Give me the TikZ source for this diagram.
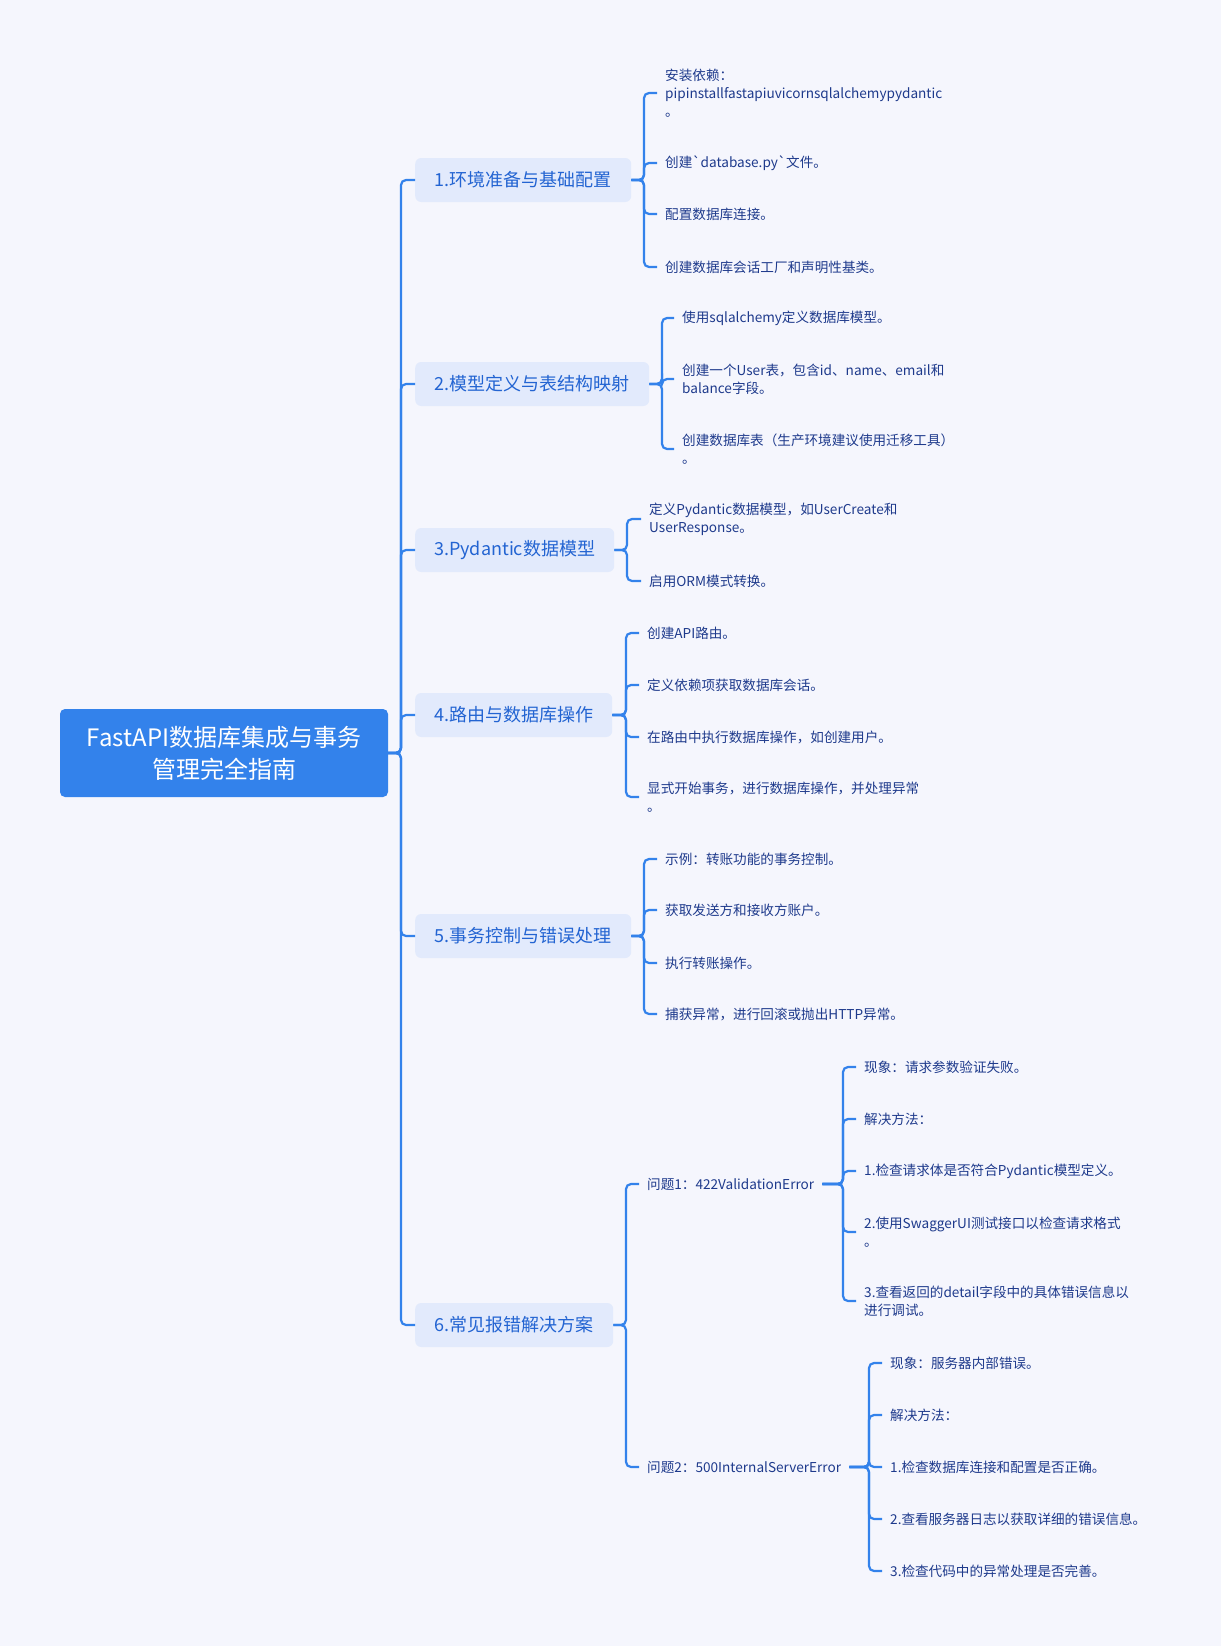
\documentclass[tikz,border=0pt]{standalone}
\usepackage{fontspec}
\setmainfont{Noto Sans CJK SC}[Ligatures=TeXOff]
\usetikzlibrary{calc}
\definecolor{bgc}{HTML}{F5F6FD}
\definecolor{rootc}{HTML}{3382EB}
\definecolor{boxc}{HTML}{E2EAFC}
\definecolor{lvtext}{HTML}{2364D2}
\definecolor{leaftext}{HTML}{1E3A8C}
\definecolor{linec}{HTML}{3382EB}
\begin{document}
\begin{tikzpicture}[x=1pt,y=-1pt,
  conn/.style={draw=linec, line width=2.2pt, rounded corners=5pt},
  rootnode/.style={fill=rootc, rounded corners=5pt, text=white, font=\fontsize{24}{32}\selectfont, align=center, minimum width=328pt, minimum height=88pt, inner sep=0pt},
  lvbox/.style={fill=boxc, rounded corners=6pt, text=lvtext, font=\fontsize{18}{22}\selectfont, minimum height=44pt, inner sep=0pt, anchor=west},
  leaf/.style={text=leaftext, font=\fontsize{13.6}{18}\selectfont, align=left, anchor=west, inner xsep=8pt, inner ysep=2pt}
]
\fill[bgc] (0,0) rectangle (1221,1646);
\useasboundingbox (0,0) rectangle (1221,1646);

\node[rootnode] (root) at (224,753) {FastAPI数据库集成与事务\\管理完全指南};

\node[lvbox, minimum width=216pt] (b1) at (415,180) {1.环境准备与基础配置};
\node[lvbox, minimum width=234pt] (b2) at (415,384) {2.模型定义与表结构映射};
\node[lvbox, minimum width=199pt] (b3) at (415,550) {3.Pydantic数据模型};
\node[lvbox, minimum width=197pt] (b4) at (415,715) {4.路由与数据库操作};
\node[lvbox, minimum width=216pt] (b5) at (415,936) {5.事务控制与错误处理};
\node[lvbox, minimum width=198pt] (b6) at (415,1325) {6.常见报错解决方案};

\foreach \b in {b1,b2,b3,b4,b5,b6}
  \draw[conn] (root.east) -- (401,753) |- (\b.west);

% box 1
\node[leaf] (c11) at (657,93) {安装依赖：\\pipinstallfastapiuvicornsqlalchemypydantic\\。};
\node[leaf] (c12) at (657,163) {创建`database.py`文件。};
\node[leaf] (c13) at (657,214) {配置数据库连接。};
\node[leaf] (c14) at (657,267) {创建数据库会话工厂和声明性基类。};
\foreach \c in {c11,c12,c13,c14}
  \draw[conn] (b1.east) -- (644,180) |- (\c.west);

% box 2
\node[leaf] (c21) at (674,318) {使用sqlalchemy定义数据库模型。};
\node[leaf] (c22) at (674,379) {创建一个User表，包含id、name、email和\\balance字段。};
\node[leaf] (c23) at (674,449) {创建数据库表（生产环境建议使用迁移工具）\\。};
\foreach \c in {c21,c22,c23}
  \draw[conn] (b2.east) -- (662,384) |- (\c.west);

% box 3
\node[leaf] (c31) at (641,519) {定义Pydantic数据模型，如UserCreate和\\UserResponse。};
\node[leaf] (c32) at (641,581) {启用ORM模式转换。};
\foreach \c in {c31,c32}
  \draw[conn] (b3.east) -- (627,550) |- (\c.west);

% box 4
\node[leaf] (c41) at (639,633) {创建API路由。};
\node[leaf] (c42) at (639,685) {定义依赖项获取数据库会话。};
\node[leaf] (c43) at (639,737) {在路由中执行数据库操作，如创建用户。};
\node[leaf] (c44) at (639,797) {显式开始事务，进行数据库操作，并处理异常\\。};
\foreach \c in {c41,c42,c43,c44}
  \draw[conn] (b4.east) -- (626,715) |- (\c.west);

% box 5
\node[leaf] (c51) at (657,859) {示例：转账功能的事务控制。};
\node[leaf] (c52) at (657,910) {获取发送方和接收方账户。};
\node[leaf] (c53) at (657,963) {执行转账操作。};
\node[leaf] (c54) at (657,1014) {捕获异常，进行回滚或抛出HTTP异常。};
\foreach \c in {c51,c52,c53,c54}
  \draw[conn] (b5.east) -- (644,936) |- (\c.west);

% box 6
\node[leaf] (q1) at (639,1184) {问题1：422ValidationError};
\node[leaf] (q2) at (639,1467) {问题2：500InternalServerError};
\foreach \c in {q1,q2}
  \draw[conn] (b6.east) -- (626,1325) |- (\c.west);

% question 1
\node[leaf] (d11) at (856,1067) {现象：请求参数验证失败。};
\node[leaf] (d12) at (856,1119) {解决方法：};
\node[leaf] (d13) at (856,1171) {1.检查请求体是否符合Pydantic模型定义。};
\node[leaf] (d14) at (856,1232) {2.使用SwaggerUI测试接口以检查请求格式\\。};
\node[leaf] (d15) at (856,1301) {3.查看返回的detail字段中的具体错误信息以\\进行调试。};
\foreach \c in {d11,d12,d13,d14,d15}
  \draw[conn] (q1.east) -- (843,1184) |- (\c.west);

% question 2
\node[leaf] (e11) at (882,1363) {现象：服务器内部错误。};
\node[leaf] (e12) at (882,1415) {解决方法：};
\node[leaf] (e13) at (882,1467) {1.检查数据库连接和配置是否正确。};
\node[leaf] (e14) at (882,1519) {2.查看服务器日志以获取详细的错误信息。};
\node[leaf] (e15) at (882,1571) {3.检查代码中的异常处理是否完善。};
\foreach \c in {e11,e12,e13,e14,e15}
  \draw[conn] (q2.east) -- (869,1467) |- (\c.west);
\end{tikzpicture}
\end{document}
